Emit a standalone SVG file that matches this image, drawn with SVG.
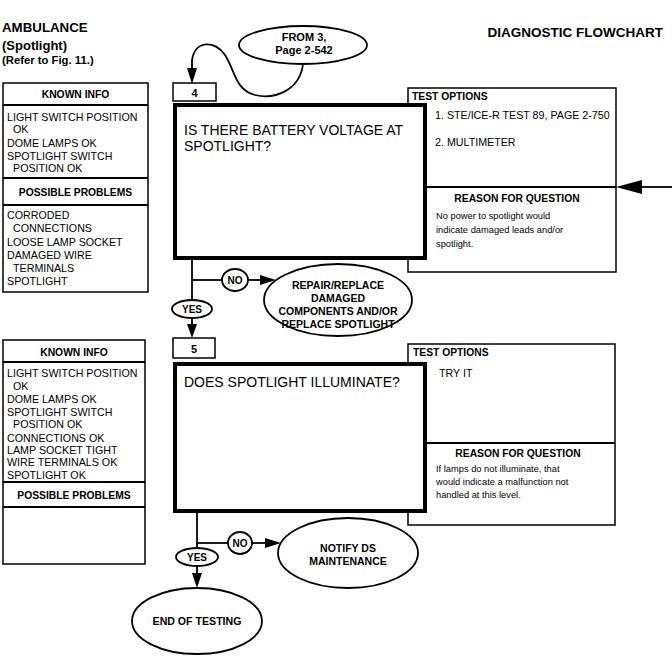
<svg xmlns="http://www.w3.org/2000/svg" width="672" height="671" viewBox="0 0 672 671">
<style>
text{font-family:"Liberation Sans",Arial,sans-serif;fill:#000}
.b{font-weight:bold}
.h{font-weight:bold;font-size:10.3px;text-anchor:middle}
.i{font-size:10.7px}
.q{font-size:14px}
.r{font-size:9.3px}
.c{text-anchor:middle}
.box{fill:#fff;stroke:#000;stroke-width:1.5}
.main{fill:#fff;stroke:#000;stroke-width:4}
.ln{fill:none;stroke:#000;stroke-width:1.8}
.ov{fill:#fff;stroke:#000;stroke-width:1.8}
</style>
<rect width="672" height="671" fill="#fff"/>
<g id="title">
<text x="2" y="32" class="b" font-size="13.3">AMBULANCE</text>
<text x="2" y="50" class="b" font-size="13">(Spotlight)</text>
<text x="2" y="64" class="b" font-size="11.3">(Refer to Fig. 11.)</text>
<text x="663" y="37" class="b" font-size="13.5" text-anchor="end">DIAGNOSTIC FLOWCHART</text>
</g>
<g id="from3">
<ellipse class="ov" cx="303" cy="45" rx="64" ry="19"/>
<text x="304" y="41" class="b c" font-size="11">FROM 3,</text>
<text x="304" y="54" class="b c" font-size="11">Page 2-542</text>
</g>
<g id="known1">
<rect class="box" x="3" y="83" width="145" height="209"/>
<line class="ln" x1="3" y1="105" x2="148" y2="105" stroke-width="1.5"/>
<line class="ln" x1="3" y1="178" x2="148" y2="178" stroke-width="1.5"/>
<line class="ln" x1="3" y1="205" x2="148" y2="205" stroke-width="1.5"/>
<text x="75.5" y="98" class="h">KNOWN INFO</text>
<text x="7" y="121" class="i">LIGHT SWITCH POSITION</text>
<text x="13" y="133" class="i">OK</text>
<text x="7" y="147" class="i">DOME LAMPS OK</text>
<text x="7" y="160" class="i">SPOTLIGHT SWITCH</text>
<text x="13" y="172" class="i">POSITION OK</text>
<text x="75.5" y="196" class="h">POSSIBLE PROBLEMS</text>
<text x="7" y="219" class="i">CORRODED</text>
<text x="13" y="232" class="i">CONNECTIONS</text>
<text x="7" y="246" class="i">LOOSE LAMP SOCKET</text>
<text x="7" y="259" class="i">DAMAGED WIRE</text>
<text x="13" y="272" class="i">TERMINALS</text>
<text x="7" y="285" class="i">SPOTLIGHT</text>
</g>
<g id="test4">
<rect class="box" x="408" y="88" width="208" height="184"/>
<line class="ln" x1="427" y1="187" x2="616" y2="187" stroke-width="1.5"/>
<text x="412" y="100" class="b" font-size="10.3">TEST OPTIONS</text>
<text x="435" y="119" class="i">1. STE/ICE-R TEST 89, PAGE 2-750</text>
<text x="435" y="146" class="i">2. MULTIMETER</text>
<text x="517" y="202" class="h">REASON FOR QUESTION</text>
<text x="436" y="219" class="r">No power to spotlight would</text>
<text x="436" y="233" class="r">indicate damaged leads and/or</text>
<text x="436" y="247" class="r">spotlight.</text>
</g>
<g id="step4">
<rect class="box" x="173" y="83" width="43" height="18"/>
<text x="194.5" y="97" class="b c" font-size="11">4</text>
<rect class="main" x="175" y="105" width="250" height="153"/>
<text x="184" y="135" class="q">IS THERE BATTERY VOLTAGE AT</text>
<text x="184" y="151" class="q">SPOTLIGHT?</text>
</g>
<g id="repair">
<ellipse class="ov" cx="338" cy="300" rx="74" ry="36"/>
<text x="338" y="289" class="b c" font-size="10.5">REPAIR/REPLACE</text>
<text x="338" y="302" class="b c" font-size="10.5">DAMAGED</text>
<text x="338" y="315" class="b c" font-size="10.5">COMPONENTS AND/OR</text>
<text x="338" y="328" class="b c" font-size="10.5">REPLACE SPOTLIGHT</text>
</g>
<g id="known2">
<rect class="box" x="3" y="340" width="142" height="224"/>
<line class="ln" x1="3" y1="362" x2="145" y2="362" stroke-width="1.5"/>
<line class="ln" x1="3" y1="482" x2="145" y2="482" stroke-width="1.5"/>
<line class="ln" x1="3" y1="507" x2="145" y2="507" stroke-width="1.5"/>
<text x="74" y="356" class="h">KNOWN INFO</text>
<text x="7" y="377" class="i">LIGHT SWITCH POSITION</text>
<text x="13" y="390" class="i">OK</text>
<text x="7" y="403" class="i">DOME LAMPS OK</text>
<text x="7" y="416" class="i">SPOTLIGHT SWITCH</text>
<text x="13" y="428" class="i">POSITION OK</text>
<text x="7" y="442" class="i">CONNECTIONS OK</text>
<text x="7" y="454" class="i">LAMP SOCKET TIGHT</text>
<text x="7" y="466" class="i">WIRE TERMINALS OK</text>
<text x="7" y="479" class="i">SPOTLIGHT OK</text>
<text x="74" y="499" class="h">POSSIBLE PROBLEMS</text>
</g>
<g id="test5">
<rect class="box" x="408" y="344" width="207" height="181"/>
<line class="ln" x1="427" y1="443" x2="615" y2="443" stroke-width="1.5"/>
<text x="413" y="356" class="b" font-size="10.3">TEST OPTIONS</text>
<text x="439" y="377" class="i">TRY IT</text>
<text x="518" y="457" class="h">REASON FOR QUESTION</text>
<text x="436" y="472" class="r">If lamps do not illuminate, that</text>
<text x="436" y="485" class="r">would indicate a malfunction not</text>
<text x="436" y="498" class="r">handled at this level.</text>
</g>
<g id="step5">
<rect class="box" x="173" y="338" width="42" height="20"/>
<text x="194" y="353" class="b c" font-size="11">5</text>
<rect class="main" x="175" y="364" width="250" height="147"/>
<text x="184" y="387" class="q">DOES SPOTLIGHT ILLUMINATE?</text>
</g>
<g id="notify">
<ellipse class="ov" cx="348" cy="553" rx="70" ry="35"/>
<text x="348" y="552" class="b c" font-size="10.5">NOTIFY DS</text>
<text x="348" y="565" class="b c" font-size="10.5">MAINTENANCE</text>
</g>
<g id="end">
<ellipse class="ov" cx="197" cy="621" rx="65" ry="33"/>
<text x="197" y="625" class="b c" font-size="10.6">END OF TESTING</text>
</g>
<g id="connectors">
<path class="ln" d="M303,64 C300,90 275,100 255,95 C235,90 235,70 225,55 C215,40 195,40 192,60 L192,72"/>
<polygon points="192,84 187,68 197,68"/>
<line class="ln" x1="640" y1="187" x2="672" y2="187" stroke-width="4"/>
<polygon points="616,187 642,180 642,194"/>
<line class="ln" x1="192" y1="260" x2="192" y2="300"/>
<line class="ln" x1="192" y1="280" x2="222" y2="280"/>
<ellipse class="ov" cx="235" cy="280" rx="13" ry="11"/>
<text x="235" y="284" class="b c" font-size="10">NO</text>
<line class="ln" x1="248" y1="280" x2="263" y2="280"/>
<polygon points="276,280 260,275 260,285"/>
<ellipse class="ov" cx="192" cy="309" rx="20" ry="9"/>
<text x="192" y="313" class="b c" font-size="10">YES</text>
<line class="ln" x1="192" y1="318" x2="192" y2="327"/>
<polygon points="192,338 187,324 197,324"/>
<line class="ln" x1="197" y1="513" x2="197" y2="548"/>
<line class="ln" x1="197" y1="543" x2="228" y2="543"/>
<ellipse class="ov" cx="240" cy="543" rx="12" ry="11"/>
<text x="240" y="547" class="b c" font-size="10">NO</text>
<line class="ln" x1="252" y1="543" x2="267" y2="543"/>
<polygon points="281,543 265,538 265,548"/>
<ellipse class="ov" cx="197" cy="557" rx="21" ry="9"/>
<text x="197" y="561" class="b c" font-size="10">YES</text>
<line class="ln" x1="197" y1="566" x2="197" y2="576"/>
<polygon points="197,588 192,573 202,573"/>
</g>
</svg>
